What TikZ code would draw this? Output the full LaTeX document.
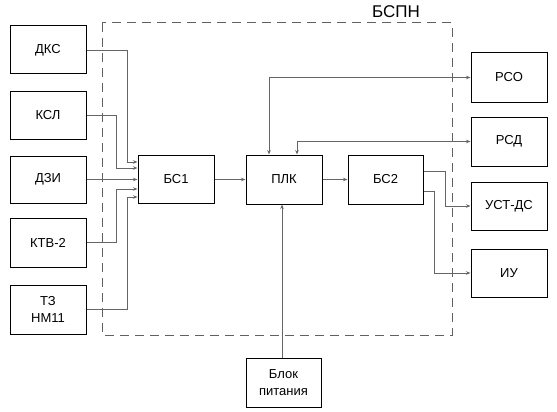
\documentclass[tikz,border=0pt]{standalone}
\usepackage{fontspec}
\setmainfont{Liberation Sans}
\usetikzlibrary{arrows.meta,calc}
\begin{document}
\begin{tikzpicture}[x=1pt,y=-1pt,
  blk/.style={draw=black,line width=1pt,fill=white,minimum width=76pt,minimum height=48pt,inner sep=0pt,align=center,font=\fontsize{13}{17}\selectfont},
  conn/.style={draw=black!60,line width=0.8pt,-{Stealth[length=4.5pt,width=3.5pt]}},
  conn2/.style={draw=black!60,line width=0.8pt,{Stealth[length=4.5pt,width=3.5pt]}-{Stealth[length=4.5pt,width=3.5pt]}},
  frame/.style={draw=black!62,line width=1pt,dash pattern=on 9pt off 6pt}]
\useasboundingbox (0,0) rectangle (557,412);
\fill[white] (0,0) rectangle (557,412);
% dashed frame
\draw[frame] (102,23) rectangle (452,335);
\node[font=\fontsize{17}{20}\selectfont,anchor=south east,inner sep=0pt] (lbl) at (420,18) {БСПН};
% left blocks
\node[blk] (dks) at (48,50) {ДКС};
\node[blk] (ksl) at (48,115) {КСЛ};
\node[blk,minimum height=47pt] (dzi) at (48,179.5) {ДЗИ};
\node[blk,minimum height=49pt] (ktv) at (48,242.5) {КТВ-2};
\node[blk,minimum height=49pt] (tz) at (48,309.5) {ТЗ\\НМ11};
% center blocks
\node[blk] (bs1) at (176,179) {БС1};
\node[blk,minimum height=49pt] (plk) at (284,179.5) {ПЛК};
\node[blk,minimum width=75pt,minimum height=49pt] (bs2) at (385.5,179.5) {БС2};
% right blocks
\node[blk,minimum height=49pt] (rso) at (509,77.5) {РСО};
\node[blk,minimum height=49pt] (rsd) at (509,141.5) {РСД};
\node[blk] (ust) at (509,206) {УСТ-ДС};
\node[blk] (iu) at (509,273) {ИУ};
% power
\node[blk,minimum width=75pt,minimum height=49pt] (pwr) at (283.5,382.5) {Блок\\питания};
% inputs to BS1
\draw[conn] (dks.east) -| (127,162) -- (bs1.west |- 127,162);
\draw[conn] (ksl.east) -| (116,168) -- (bs1.west |- 116,168);
\draw[conn] (dzi.east) -- (bs1.west |- dzi.east);
\draw[conn] (ktv.east) -| (116,189) -- (bs1.west |- 116,189);
\draw[conn] (tz.east) -| (127,197) -- (bs1.west |- 127,197);
% chain
\draw[conn] (bs1.east |- 0,179.5) -- (plk.west);
\draw[conn] (plk.east) -- (bs2.west);
% PLK <-> RSO, RSD
\draw[conn2] (plk.north -| 269,0) |- (rso.west);
\draw[conn2] (plk.north -| 297,0) |- (rsd.west);
% BS2 outputs
\draw[conn] (bs2.east |- 0,171) -| (445,206) -- (ust.west);
\draw[conn] (bs2.east |- 0,191) -| (434,273) -- (iu.west);
% power
\draw[conn] (pwr.north -| 282,0) -- (plk.south -| 282,0);
\end{tikzpicture}
\end{document}
